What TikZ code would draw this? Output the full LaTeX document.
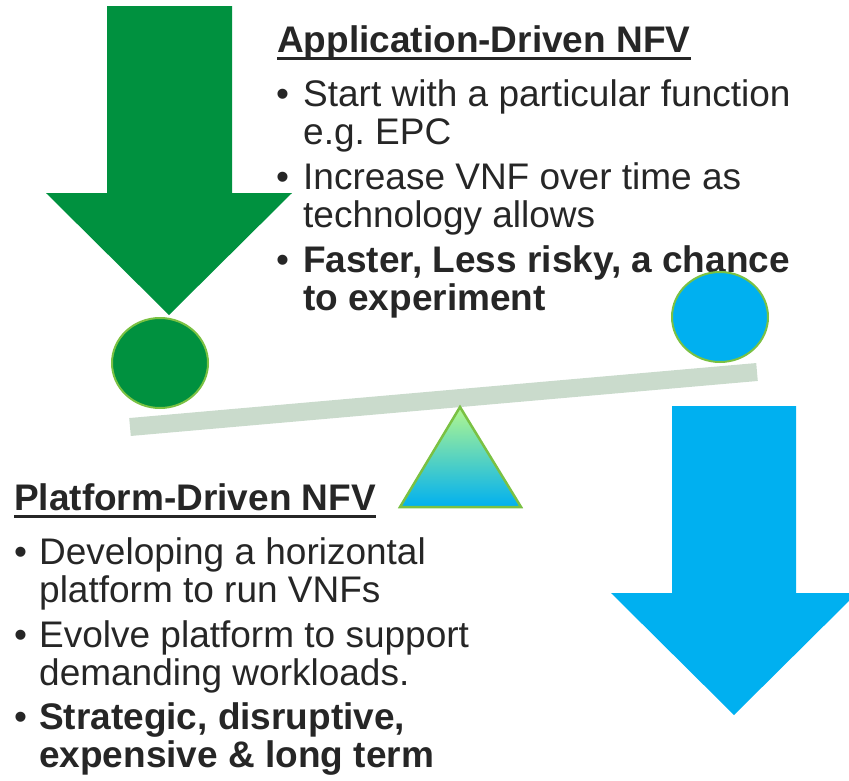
\documentclass[tikz,border=0pt]{standalone}
\usepackage{fontspec}
\setmainfont{Liberation Sans}
\usetikzlibrary{positioning}

\definecolor{nfvgreen}{HTML}{00913F}
\definecolor{nfvblue}{HTML}{00B0F0}
\definecolor{rimgreen}{HTML}{7AC143}
\definecolor{beamgray}{HTML}{CADBCC}
\definecolor{textgray}{HTML}{262626}
\definecolor{topgreen}{HTML}{B2F78F}

\begin{document}
\begin{tikzpicture}[x=1pt, y=-1pt,
		line/.style={anchor=base west, inner sep=0pt, text=textgray, font=\fontsize{37}{38}\selectfont},
		head/.style={line, font=\fontsize{37}{38}\selectfont\bfseries},
		rim/.style={draw=rimgreen, line width=2pt}]
			\useasboundingbox (0,0) rectangle (849,780);
			% the two arrows
			\fill[nfvgreen] (107,6) -- (232,6) -- (232,193) -- (292,193) -- (169,315) -- (46,193) -- (107,193) -- cycle;
			\fill[nfvblue] (672,406) -- (796,406) -- (796,593) -- (857,593) -- (734,715) -- (611,593) -- (672,593) -- cycle;
			% beam and pivot
			\draw[beamgray, line width=18pt] (130,427) -- (757,372);
			\draw[draw=rimgreen, line width=2.5pt, top color=topgreen, bottom color=nfvblue] (460,407) -- (521,507) -- (400,507) -- cycle;
			% application-driven
			\node[head] (apphead) at (277,52) {Application-Driven NFV};
			\draw[textgray, line width=3pt] ([yshift=-6pt]apphead.base west) -- ([yshift=-6pt]apphead.base east);
			\foreach \y [count=\i] in {106,189,272} {
				\node[line] (appdot\i) at (276,\y) {•};
			};
			\foreach \y/\txt [count=\i] in {106/Start with a particular function, 144/e.g.\ EPC, 189/Increase VNF over time as, 227/technology allows, {272/\bfseries Faster, Less risky, a chance}, 310/\bfseries to experiment} {
				\node[line] (app\i) at (303,\y) {\txt};
			};
			% platform-driven
			\node[head] (plathead) at (14,510) {Platform-Driven NFV};
			\draw[textgray, line width=3pt] ([yshift=-6pt]plathead.base west) -- ([yshift=-6pt]plathead.base east);
			\foreach \y [count=\i] in {564,647,729} {
				\node[line] (platdot\i) at (14,\y) {•};
			};
			\foreach \y/\txt [count=\i] in {564/Developing a horizontal, 602/platform to run VNFs, 647/Evolve platform to support, 685/demanding workloads., {729/\bfseries Strategic, disruptive,}, 767/\bfseries expensive \& long term} {
				\node[line] (plat\i) at (39,\y) {\txt};
			};
			% the two weights
			\draw[rim, fill=nfvgreen] (160,363) ellipse [x radius=48, y radius=45];
			\draw[rim, fill=nfvblue] (720,317) ellipse [x radius=48, y radius=45];
		\end{tikzpicture}
\end{document}
